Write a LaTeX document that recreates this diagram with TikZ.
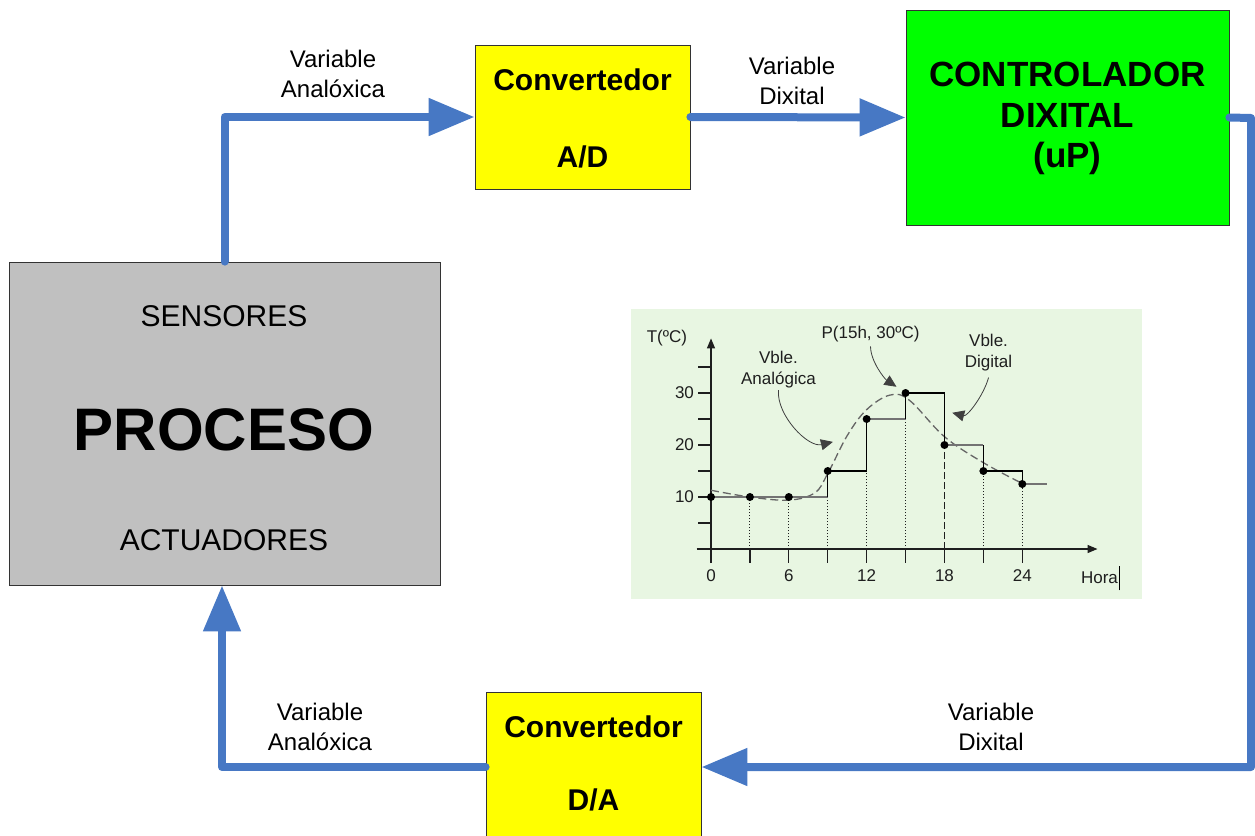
\documentclass[tikz,border=0pt]{standalone}
\usepackage{fontspec}
\setmainfont{Liberation Sans}
\usetikzlibrary{arrows.meta}
\definecolor{flowblue}{RGB}{71,120,196}
\definecolor{chartbg}{RGB}{232,246,226}
\definecolor{boxgray}{RGB}{192,192,192}
\definecolor{chartink}{RGB}{30,30,30}
\definecolor{boxyellow}{RGB}{255,255,0}
\definecolor{boxgreen}{RGB}{0,255,0}
\begin{document}
\begin{tikzpicture}[x=1pt,y=-1pt,
  flow/.style={line width=8pt, draw=flowblue, line join=round, line cap=round,
    -{Triangle[length=46pt,width=36pt]}},
  blockbox/.style={draw=black!80, line width=0.8pt, inner sep=0pt},
  lbl/.style={font=\fontsize{24}{30}\selectfont, align=center, inner sep=0pt},
  boxtxt/.style={font=\fontsize{30}{36}\selectfont, inner sep=0pt},
  boxbold/.style={font=\fontsize{30}{36}\selectfont\bfseries, inner sep=0pt},
  ctrltxt/.style={font=\fontsize{35}{42}\selectfont\bfseries, inner sep=0pt},
  ctxt/.style={font=\fontsize{17}{21}\selectfont, text=chartink, inner sep=0pt, align=center},
  dot/.style={circle, fill=black, inner sep=0pt, minimum size=8pt},
  note/.style={-{Triangle[length=12pt,width=11pt]}, line width=0.8pt, draw=black!75}
]
\useasboundingbox (0,0) rectangle (1255,835);

% blocks
\node[blockbox, fill=boxgray, minimum width=431pt, minimum height=323pt] (proc) at (224.5,423.5) {};
\node[blockbox, fill=boxyellow, minimum width=215pt, minimum height=144pt] (ad) at (582.5,117) {};
\node[blockbox, fill=boxgreen, minimum width=323pt, minimum height=215pt] (ctrl) at (1067.5,117.5) {};
\node[blockbox, fill=boxyellow, minimum width=215pt, minimum height=150pt] (da) at (593.5,767) {};

% block texts
\node[boxtxt] (tsens) at (224,316) {SENSORES};
\node[inner sep=0pt, font=\fontsize{60}{66}\selectfont\bfseries] (tproc) at (224,430) {PROCESO};
\node[boxtxt] (tact) at (224,540) {ACTUADORES};
\node[boxbold] (tad1) at (582.5,80) {Convertedor};
\node[boxbold] (tad2) at (582.5,157) {A/D};
\node[ctrltxt] (tc1) at (1067.5,74) {CONTROLADOR};
\node[ctrltxt] (tc2) at (1067.5,115) {DIXITAL};
\node[ctrltxt] (tc3) at (1067.5,158) {(uP)};
\node[boxbold] (tda1) at (593.5,727) {Convertedor};
\node[boxbold] (tda2) at (593.5,800) {D/A};

% connectors
\coordinate (c1) at (1251,118);
\draw[flow] (proc.north) |- (ad.west);
\draw[flow] (ad.east) -- (ctrl.west);
\draw[flow] (ctrl.east) -- (c1) |- (da.east);
\draw[flow] (da.west) -| (proc.south -| 222,0);

% connector labels
\node[lbl] (l1) at (333,74) {Variable\\Analóxica};
\node[lbl] (l2) at (792,81) {Variable\\Dixital};
\node[lbl] (l3) at (991,727) {Variable\\Dixital};
\node[lbl] (l4) at (320,727) {Variable\\Analóxica};

% chart
\node[fill=chartbg, minimum width=511pt, minimum height=290pt, inner sep=0pt] (chartbox) at (886.5,454) {};
\begin{scope}[shift={(711,549)}, x={(12.97pt,0pt)}, y={(0pt,5.2pt)}]
  % axes
  \coordinate (ytop) at (0,40.5);
  \coordinate (xend) at (29.8,0);
  \draw[line width=1.3pt, chartink, -{Triangle[length=10pt,width=8pt]}] (0,-2.7) -- (ytop);
  \draw[line width=1.3pt, chartink, -{Triangle[length=10pt,width=8pt]}] (-1.1,0) -- (xend);
  % y ticks
  \foreach \v in {5,10,...,35} \draw[line width=1.2pt, chartink] (-1,\v) -- (0,\v);
  % x ticks
  \foreach \h in {3,6,...,24} \draw[line width=1.2pt, chartink] (\h,0) -- (\h,-2.7);
  % tick labels
  \foreach \v in {10,20,30} \node[ctxt, anchor=east] at (-1.3,\v) {\v};
  \foreach \h in {0,6,12,18,24} \node[ctxt] at (\h,-5.2) {\h};
  \node[ctxt] (hora) at (29.95,-5.6) {Hora};
  \draw[line width=0.9pt, black] ([xshift=1pt,yshift=-6pt]hora.south east) -- ([xshift=1pt,yshift=6pt]hora.north east);
  \node[ctxt] (tlab) at (-3.4,40.6) {T(ºC)};
  % sample drop lines
  \foreach \h/\v in {3/10,6/10,9/15,12/25,15/30,21/15,24/12.5}
    \draw[line width=1pt, dotted, chartink] (\h,0) -- (\h,\v);
  \draw[line width=1pt, dash pattern=on 7pt off 3pt, chartink] (18,0) -- (18,20);
  % analog curve
  \draw[line width=1.3pt, dash pattern=on 8pt off 4pt, black!60] plot[smooth, tension=0.6] coordinates
    {(0,11.3) (3,10) (6,9.4) (8,10.8) (9,14.5) (10.5,21.8) (12,26.8) (13.8,29.6) (15.3,28.6) (18,21.6) (21,16.6) (24,12.6)};
  % staircase (digital)
  \draw[line width=1.2pt, black!55] (0,10) -- (9,10);
  \draw[line width=1.2pt, black!55] (12,25) -- (15,25);
  \draw[line width=1.2pt, black!55] (18,20) -- (21,20);
  \draw[line width=1.2pt, black!55] (24,12.5) -- (25.9,12.5);
  \draw[line width=1.3pt, black] (9,10) -- (9,15) -- (12,15) -- (12,25);
  \draw[line width=1.3pt, black] (15,25) -- (15,30) -- (18,30) -- (18,20);
  \draw[line width=1.3pt, black] (21,20) -- (21,15) -- (24,15) -- (24,12.5);
  % sample dots
  \foreach \h/\v/\n in {0/10/p0,3/10/p1,6/10/p2,9/15/p3,12/25/p4,15/30/p5,18/20/p6,21/15/p7,24/12.5/p8}
    \node[dot] (\n) at (\h,\v) {};
  % annotations
  \node[ctxt] (va) at (5.2,34.5) {Vble.\\Analógica};
  \node[ctxt] (pp) at (12.3,41.3) {P(15h, 30ºC)};
  \node[ctxt] (vd) at (21.4,37.7) {Vble.\\Digital};
  \coordinate (vaT) at (9.4,20.6);
  \coordinate (ppT) at (14.3,31.2);
  \coordinate (vdT) at (18.6,26.2);
  \draw[note] (va.south) ++(0,-2pt) .. controls +(-2pt,-25pt) and +(-25pt,-6pt) .. (vaT);
  \draw[note] (pp.south) ++(0,-4pt) .. controls +(0pt,-15pt) and +(-12pt,8pt) .. (ppT);
  \draw[note] (vd.south) ++(0,-6pt) .. controls +(-5pt,-18pt) and +(15pt,-4pt) .. (vdT);
\end{scope}
\end{tikzpicture}
\end{document}
